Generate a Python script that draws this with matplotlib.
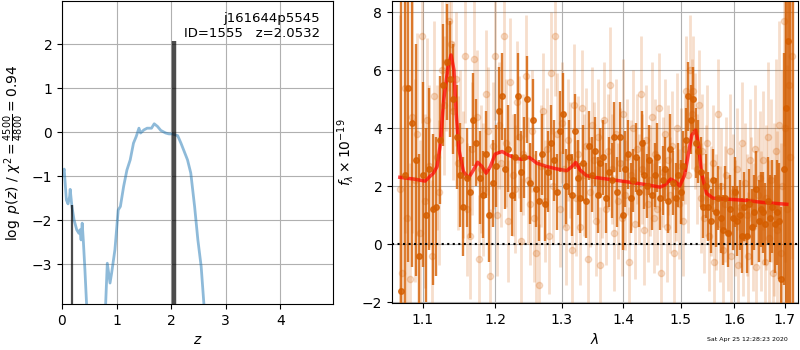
import numpy as np
import matplotlib
matplotlib.use("Agg")
import matplotlib.pyplot as plt
from matplotlib.ticker import NullLocator, FixedLocator, FixedFormatter

# --- left panel: log p(z) ---
z_pz = [0.00, 0.04, 0.08, 0.11, 0.14, 0.15, 0.18, 0.22, 0.27, 0.31, 0.33, 0.35,
        0.37, 0.39, 0.42, 0.45, 0.50, 0.75, 0.80, 0.83, 0.88, 0.91, 0.97, 1.03,
        1.07, 1.13, 1.19, 1.25, 1.31, 1.36, 1.41, 1.44, 1.50, 1.56, 1.64, 1.69,
        1.75, 1.81, 1.90, 1.96, 2.02, 2.12, 2.18, 2.24, 2.30, 2.36, 2.43, 2.49,
        2.55, 2.60, 2.70]
logpz = [-1.00, -0.84, -1.54, -1.63, -1.46, -1.30, -1.67, -1.99, -2.22, -2.30,
         -2.22, -2.45, -2.07, -2.45, -3.13, -3.90, -6.0, -6.0, -3.90, -2.98,
         -3.43, -3.20, -2.67, -1.77, -1.69, -1.23, -0.86, -0.63, -0.25, -0.10,
         0.09, -0.02, 0.05, 0.09, 0.09, 0.19, 0.13, 0.04, -0.02, -0.04, -0.04,
         -0.08, -0.25, -0.44, -0.63, -0.93, -1.69, -2.45, -3.05, -3.90, -6.0]
z_peaks = [0.18, 2.053]
peak_vals = [-1.65, 2.08]
peak_widths = [1.6, 3.2]

# --- right panel: spectrum ---
lam0, dlam = 1.072, 0.0046
flux_bin = [-1.6, 2.4, 5.4, 4.2, 2.9, -0.4, 2.4, 1.0, 2.6, 1.2,
            1.3, 3.6, 5.5, 6.3, 5.7, 5.0, 3.7, 2.4, 1.3, 2.3,
            1.8, 4.3, 3.5, 2.3, 1.7, 3.1, 1.0, 2.1, 2.7, 4.6,
            5.1, 2.6, 3.3, 1.7, 3.0, 5.1, 2.5, 3.0, 5.0, 2.1,
            4.3, 1.9, 1.5, 3.1, 1.4, 2.5, 3.5, 2.9, 1.8, 3.9,
            4.5, 2.0, 3.0, 1.7, 3.9, 2.3, 1.6, 2.8, 1.5, 3.4,
            2.4, 3.2, 1.7, 2.8, 3.0, 1.6, 2.5, 2.2, 3.7, 1.8,
            3.7, 1.0, 2.6, 3.1, 1.6, 2.2, 3.0, 1.8, 3.5, 2.4,
            2.0, 2.9, 1.7, 2.4, 3.0, 1.6, 2.2, 2.6, 1.5, 3.3,
            2.1, 1.6, 2.4, 1.8, 2.7, 3.6, 5.1, 4.3, 5.0, 3.5,
            3.2, 2.5, 1.3, 2.0, 1.3, 0.8, 2.2, 1.1, 1.6, 0.9,
            0.5, 1.6, 0.4, 1.2, 0.9, 1.8, 0.8, 1.0, 0.3, 1.3,
            0.3, 1.4, 0.6, 1.1, 1.9, 0.8, 1.2, 1.1, 0.7, 1.5,
            0.9, 1.3, 0.7, 1.1, 0.8, -1.2, 2.6, 4.7, 7.0, 9.5,
            12.0]
err_bin = [12, 8, 6, 5, 4, 3.5, 3.2, 3, 2.8, 2.6,
           2.4, 2.2, 2.1, 2.0, 2.0, 1.9, 1.8, 1.8, 1.7, 1.7,
           1.6, 1.6, 1.5, 1.6, 1.5, 1.5, 1.6, 1.5, 1.4, 1.5,
           1.5, 1.4, 1.5, 1.4, 1.5, 1.5, 1.4, 1.4, 1.5, 1.4,
           1.4, 1.3, 1.4, 1.4, 1.3, 1.4, 1.3, 1.4, 1.3, 1.4,
           1.4, 1.3, 1.3, 1.4, 1.3, 1.3, 1.2, 1.3, 1.3, 1.2,
           1.3, 1.2, 1.3, 1.2, 1.3, 1.2, 1.2, 1.3, 1.2, 1.2,
           1.2, 1.2, 1.3, 1.2, 1.2, 1.1, 1.2, 1.2, 1.1, 1.2,
           1.1, 1.2, 1.2, 1.1, 1.2, 1.1, 1.2, 1.1, 1.1, 1.2,
           1.1, 1.2, 1.1, 1.1, 1.2, 1.1, 1.2, 1.2, 1.1, 1.2,
           1.1, 1.2, 1.1, 1.1, 1.2, 1.1, 1.1, 1.2, 1.1, 1.2,
           1.2, 1.1, 1.2, 1.2, 1.1, 1.2, 1.2, 1.2, 1.3, 1.2,
           1.3, 1.2, 1.3, 1.3, 1.3, 1.4, 1.3, 1.4, 1.4, 1.5,
           1.5, 1.6, 1.7, 1.8, 2.0, 2.5, 4, 8, 12, 20,
           30]

lam1, dlam1 = 1.070, 0.003236
flux_all = [1.9, -1.0, 5.4, 0.9, -1.2, 4.4, 2.2, 3.8, 0.4, 7.2, 1.5, 4.3, 2.7, -0.4, 5.1, 3.0, 1.8, 6.0, 4.8, 6.3,
            7.7, 6.9, 4.6, 5.7, 2.8, 3.6, 2.4, 6.5, 1.2, 0.3, 3.3, 6.4, 4.4, -0.5, 2.6, 1.9, 5.2, 3.9, -1.1, 3.4,
            6.5, 1.0, 4.1, 2.8, 7.2, 3.5, 0.8, 5.6, 2.4, 1.9, 4.9, 3.7, 0.1, 3.1, 5.8, 2.2, 1.4, 3.9, 0.9, -0.3,
            -1.4, 2.7, 4.6, 1.5, 3.3, 0.3, 5.9, 2.0, 7.2, 3.8, 1.2, 4.2, 2.6, 0.6, 3.6, 2.9, -0.2, 4.8, 1.6, 3.1,
            0.6, 4.7, 2.4, 3.4, -0.5, 1.8, 4.1, 2.9, 0.8, 3.7, -0.7, 2.1, 4.3, 1.2, 3.2, 5.5, 2.6, 0.4, 3.8, 1.5,
            2.8, 0.9, 4.5, 1.7, 3.0, -0.6, 2.4, 4.0, 0.7, 3.3, 1.9, 5.2, 2.6, 0.5, 3.6, 1.4, 2.2, 4.4, 0.9, 3.1,
            1.2, 4.7, -1.0, 2.5, 3.8, 0.6, 2.9, 1.7, 3.4, -0.3, 2.0, 4.0, 1.4, 2.7, 0.8, 3.3, 5.3, 2.4, 6.0, 4.5,
            5.3, 3.9, 2.6, 4.8, 1.6, 3.2, 0.9, 2.2, 3.5, 0.3, 1.5, 2.8, -0.6, 1.1, 4.5, 0.7, 2.0, -0.2, 1.4, 2.4,
            0.4, 3.2, -0.4, 1.8, 0.9, 2.6, -0.7, 1.3, 3.5, 0.2, 2.1, 1.0, -0.4, 2.9, 1.5, 0.6, 3.3, -0.8, 1.7, 2.3,
            0.8, 2.9, -0.6, 1.6, 3.7, 0.2, 2.2, -1.0, 1.2, 3.2, 0.5, 4.1, -0.3, 2.0, 7.7, 4.0, 1.2, 5.5, 3.0, 6.5]
err_all = [6, 5, 5, 4.5, 4, 4, 3.5, 3.5, 3.2, 3, 3, 2.8, 2.8, 2.6, 2.6, 2.5, 2.5, 2.4, 2.4, 2.4,
           2.4, 2.3, 2.4, 2.3, 2.3, 2.4, 2.2, 2.3, 2.3, 2.2, 2.3, 2.2, 2.3, 2.2, 2.2, 2.3, 2.2, 2.2, 2.3, 2.2,
           2.2, 2.1, 2.2, 2.2, 2.1, 2.2, 2.1, 2.2, 2.1, 2.2, 2.1, 2.1, 2.2, 2.1, 2.1, 2.2, 2.1, 2.1, 2.2, 2.1,
           2.1, 2.1, 2.0, 2.1, 2.1, 2.0, 2.1, 2.0, 2.1, 2.1, 2.0, 2.1, 2.0, 2.0, 2.1, 2.0, 2.0, 2.1, 2.0, 2.0,
           2.0, 2.0, 2.1, 2.0, 2.0, 1.9, 2.0, 2.0, 1.9, 2.0, 2.0, 1.9, 2.0, 1.9, 2.0, 2.0, 1.9, 2.0, 1.9, 2.0,
           1.9, 2.0, 1.9, 1.9, 2.0, 1.9, 1.9, 2.0, 1.9, 1.9, 1.9, 2.0, 1.9, 1.9, 1.9, 2.0, 1.9, 1.9, 1.9, 1.9,
           1.9, 1.9, 2.0, 1.9, 1.9, 1.9, 1.9, 2.0, 1.9, 1.9, 1.9, 1.9, 1.9, 2.0, 1.9, 1.9, 1.9, 2.0, 1.9, 1.9,
           1.9, 2.0, 1.9, 1.9, 1.9, 2.0, 1.9, 1.9, 2.0, 1.9, 1.9, 2.0, 1.9, 2.0, 1.9, 2.0, 2.0, 1.9, 2.0, 2.0,
           2.0, 2.0, 2.1, 2.0, 2.0, 2.1, 2.0, 2.1, 2.1, 2.0, 2.1, 2.1, 2.2, 2.1, 2.2, 2.2, 2.2, 2.3, 2.3, 2.3,
           2.4, 2.4, 2.5, 2.5, 2.6, 2.7, 2.8, 2.9, 3.0, 3.2, 3.4, 3.6, 3.8, 4.0, 4.3, 4.6, 5.0, 5.5, 6.0, 7.0]

lam_model = [1.070, 1.0876, 1.103, 1.114, 1.119, 1.123, 1.128, 1.134, 1.138, 1.142,
             1.145, 1.149, 1.155, 1.162, 1.169, 1.175, 1.181, 1.187, 1.193, 1.200,
             1.210, 1.219, 1.229, 1.239, 1.250, 1.262, 1.277, 1.292, 1.308, 1.316,
             1.322, 1.329, 1.339, 1.355, 1.383, 1.411, 1.441, 1.463, 1.472, 1.482,
             1.490, 1.498, 1.507, 1.514, 1.520, 1.527, 1.532, 1.538, 1.547, 1.559,
             1.591, 1.623, 1.657, 1.704]
flux_model = [2.31, 2.25, 2.18, 2.45, 2.68, 3.37, 4.98, 6.13, 6.53, 6.01,
              4.52, 3.25, 2.51, 2.28, 2.56, 2.83, 2.68, 2.45, 2.68, 3.11,
              3.20, 3.08, 2.97, 2.93, 3.00, 2.79, 2.68, 2.60, 2.54, 2.68,
              2.82, 2.56, 2.37, 2.30, 2.22, 2.14, 2.05, 1.97, 2.05, 2.25,
              2.16, 2.01, 2.39, 3.14, 3.77, 3.94, 3.48, 2.45, 1.76, 1.59,
              1.55, 1.51, 1.44, 1.38]

lam_bin = lam0 + dlam * np.arange(len(flux_bin))
lam_all = lam1 + dlam1 * np.arange(len(flux_all))

grism_color = (0.8352941176470589, 0.3686274509803922, 0.0)

fig = plt.figure(figsize=(8, 3.5), dpi=100)
ax1 = fig.add_axes([0.0775, 0.131, 0.339, 0.866])
ax2 = fig.add_axes([0.49, 0.134, 0.5075, 0.863])

ax1.plot(z_pz, logpz, color='tab:blue', alpha=0.5, lw=2)
ax1.vlines(z_peaks, -10, peak_vals, color='k', alpha=0.7, linewidths=peak_widths)
ax1.set_xlim(0, 4.97)
ax1.set_ylim(-3.91, 2.98)
ax1.set_xticks([0, 1, 2, 3, 4])
ax1.set_yticks([-3, -2, -1, 0, 1, 2])
ax1.grid()
ax1.set_xlabel(r'$z$')
ax1.set_ylabel(r'$\log\ p(z)$' + ' / ' + r'$\chi^2=\frac{4500}{4800}=0.94$')
ax1.text(0.95, 0.965, 'j161644p5545\nID=1555   z=2.0532', ha='right', va='top',
         transform=ax1.transAxes, fontsize=9.5)

ax2.errorbar(lam_all, flux_all, yerr=err_all, marker='o', linestyle='None',
             color=grism_color, alpha=0.2, ms=4.5, elinewidth=2.0)
ax2.errorbar(lam_bin, flux_bin, yerr=err_bin, marker='o', linestyle='None',
             color=grism_color, alpha=0.8, ms=4, elinewidth=1.7)
ax2.plot(lam_model, flux_model, color='r', alpha=0.7, lw=2.5)
ax2.axhline(0, color='k', linestyle=':', lw=1.5)
ax2.set_xscale('log')
xt = [1.1, 1.2, 1.3, 1.4, 1.5, 1.6, 1.7]
ax2.xaxis.set_major_locator(FixedLocator(xt))
ax2.xaxis.set_major_formatter(FixedFormatter(['%.1f' % v for v in xt]))
ax2.xaxis.set_minor_locator(NullLocator())
ax2.set_xlim(1.06, 1.727)
ax2.set_ylim(-2.03, 8.39)
ax2.set_yticks([-2, 0, 2, 4, 6, 8])
ax2.grid()
ax2.set_xlabel(r'$\lambda$')
ax2.set_ylabel(r'$f_\lambda\times10^{-19}$')

fig.text(788 / 800, 1 - 339 / 350, 'Sat Apr 25 12:28:23 2020', ha='right', va='center',
         fontsize=4.5)

fig.savefig('out.png', dpi=100)
